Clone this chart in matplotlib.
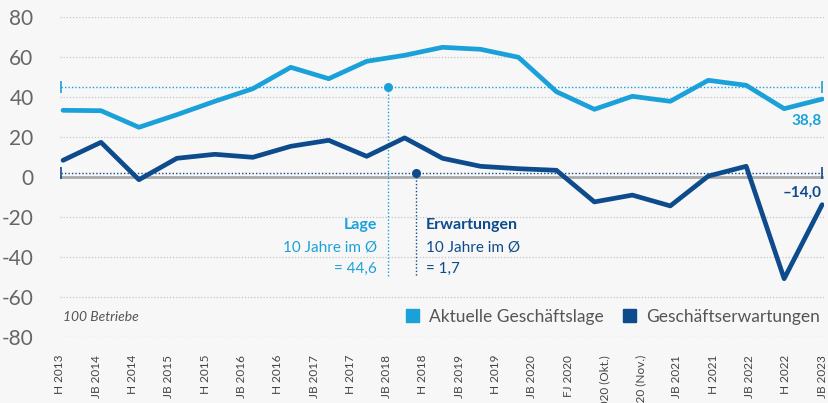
import numpy as np
import matplotlib.pyplot as plt
from matplotlib.patches import Patch

plt.rcParams['font.family'] = ['Lato', 'DejaVu Sans']
plt.rcParams['axes.unicode_minus'] = False

# Daten
labels = ['H 2013', 'JB 2014', 'H 2014', 'JB 2015', 'H 2015', 'JB 2016', 'H 2016',
          'JB 2017', 'H 2017', 'JB 2018', 'H 2018', 'JB 2019', 'H 2019', 'JB 2020',
          'FJ 2020', '2020 (Okt.)', '2020 (Nov.)', 'JB 2021', 'H 2021', 'JB 2022',
          'H 2022', 'JB 2023']
lage = [33.2, 33.0, 24.7, 31.0, 37.7, 44.0, 54.7, 49.0, 57.7, 60.7, 64.7,
        63.7, 59.7, 42.5, 33.7, 40.2, 37.7, 48.2, 45.7, 34.0, 38.8]
erwartungen = [8.2, 17.2, -1.5, 9.2, 11.2, 9.7, 15.2, 18.2, 10.2, 19.4, 9.2,
               5.2, 4.0, 3.2, -12.6, -9.2, -14.6, 0.3, 5.2, -51.0, -14.0]
avg_lage = 44.6
avg_erw = 1.7

c_light = '#1ba1d9'
c_dark = '#0d4b8c'
bg = '#f7f7f7'

fig = plt.figure(figsize=(8.29, 4.03), dpi=100, facecolor=bg)
ax = fig.add_axes([60 / 829, 66.3 / 403, 764 / 829, 320 / 403], facecolor=bg)

x = np.arange(len(lage))
ax.set_xlim(-0.08, 20.05)
ax.set_ylim(-80, 80)

# Gitterlinien
for v in range(-80, 81, 20):
    if v == 0:
        ax.axhline(0, color='#aaaaaa', lw=2, zorder=1)
    else:
        ax.axhline(v, color='#c4c4c4', lw=0.9, ls=(0, (1, 1.5)), zorder=1)

# Durchschnittslinien
ax.plot([-0.05, 20], [avg_lage] * 2, color=c_light, lw=1, ls=(0, (1, 1.5)), zorder=2)
ax.plot([-0.05, 20], [avg_lage] * 2, ls='none', marker='|', ms=8, mew=1.2, color=c_light, zorder=2)
ax.plot([-0.05, 20], [avg_erw] * 2, color=c_dark, lw=1, ls=(0, (1, 1.5)), zorder=2)
ax.plot([-0.05, 20], [avg_erw] * 2, ls='none', marker='|', ms=8, mew=1.2, color=c_dark, zorder=2)

xl, xd = 8.56, 9.3
ax.plot([xl, xl], [avg_lage, -49.8], color=c_light, lw=1, ls=(0, (1, 1.5)), zorder=2)
ax.plot(xl, avg_lage, 'o', color=c_light, ms=5.5, zorder=3)
ax.plot([xd, xd], [avg_erw, -49.8], color=c_dark, lw=1, ls=(0, (1, 1.5)), zorder=2)
ax.plot(xd, avg_erw, 'o', color=c_dark, ms=5.5, zorder=3)

# Linien
ax.plot(x, lage, color=c_light, lw=3.4, solid_joinstyle='round', solid_capstyle='round', zorder=4)
ax.plot(x, erwartungen, color=c_dark, lw=3.4, solid_joinstyle='round', solid_capstyle='round', zorder=4)

# Beschriftungen
ax.text(8.27, -24.3, 'Lage', color=c_light, fontsize=11.5, fontweight='bold', ha='right', va='center')
ax.text(8.27, -35.3, '10 Jahre im Ø', color=c_light, fontsize=11, ha='right', va='center')
ax.text(8.27, -46.3, '= 44,6', color=c_light, fontsize=11, ha='right', va='center')
ax.text(9.57, -24.3, 'Erwartungen', color=c_dark, fontsize=11.5, fontweight='bold', ha='left', va='center')
ax.text(9.57, -35.3, '10 Jahre im Ø', color=c_dark, fontsize=11, ha='left', va='center')
ax.text(9.57, -46.3, '= 1,7', color=c_dark, fontsize=11, ha='left', va='center')

ax.text(20, 28, '38,8', color=c_light, fontsize=11, fontweight='bold', ha='right', va='center')
ax.text(20, -8, '–14,0', color=c_dark, fontsize=11, fontweight='bold', ha='right', va='center')

ax.text(0, -70, '100 Betriebe', color='#555555', fontsize=10, style='italic', ha='left', va='center')

handles = [Patch(color=c_light, label='Aktuelle Geschäftslage'),
           Patch(color=c_dark, label='Geschäftserwartungen')]
ax.legend(handles=handles, ncol=2, loc='center right', bbox_to_anchor=(0.995, (-70 + 80) / 160),
          frameon=False, fontsize=12.5, handlelength=0.75, handleheight=0.75,
          handletextpad=0.6, columnspacing=1.1, labelcolor='#555555', borderpad=0, borderaxespad=0)

# Achsen
ax.set_yticks(range(-80, 81, 20))
ax.set_yticklabels([str(v) for v in range(-80, 81, 20)])
ax.set_xticks(np.linspace(-0.08, 20, len(labels)))
ax.set_xticklabels(labels, rotation=90, fontsize=8.5, color='#444444')
ax.tick_params(axis='y', length=0, pad=19, labelsize=15, labelcolor='#666666')
ax.tick_params(axis='x', length=0, pad=13)
for s in ax.spines.values():
    s.set_visible(False)

fig.savefig('out.png', dpi=100, facecolor=bg)
